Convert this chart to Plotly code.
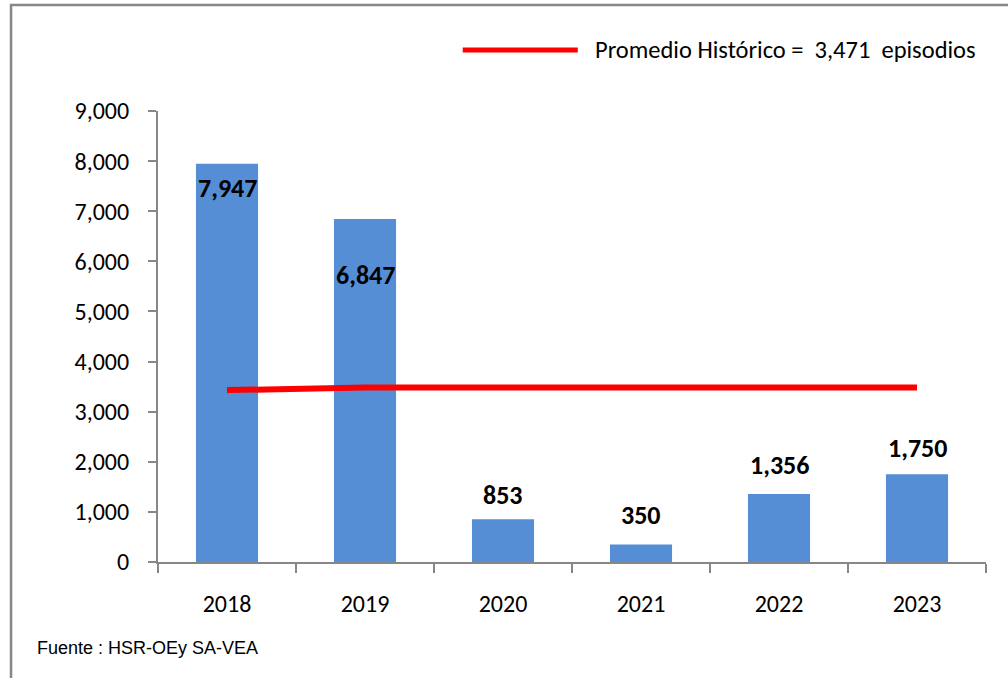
import plotly.graph_objects as go

years = ["2018", "2019", "2020", "2021", "2022", "2023"]
episodios = [7947, 6847, 853, 350, 1356, 1750]
promedio = [3430, 3480, 3480, 3480, 3480, 3480]
label_text = ["7,947", "6,847", "853", "350", "1,356", "1,750"]
label_shift = [-24, -56, 24, 29, 29, 26]
legend_label = "Promedio Histórico =  3,471  episodios"
source_note = "Fuente : HSR-OEy SA-VEA"
y_ticks = [0, 1000, 2000, 3000, 4000, 5000, 6000, 7000, 8000, 9000]

FONT = "Carlito, Lato, 'Liberation Sans', sans-serif"
GRAY = "#878787"

fig = go.Figure()
fig.add_trace(go.Bar(
    x=years, y=episodios, marker=dict(color="#558ED5", line=dict(width=0)),
    width=0.45, showlegend=False, hoverinfo="x+y",
))
fig.add_trace(go.Scatter(
    x=years, y=promedio, mode="lines",
    line=dict(color="#FF0000", width=6), showlegend=False,
))

for i, (v, t, s) in enumerate(zip(episodios, label_text, label_shift)):
    fig.add_annotation(x=i, y=v, text=f"<b>{t}</b>", showarrow=False,
                       yshift=s, font=dict(family=FONT, size=26, color="#000000"))

# legend drawn manually
fig.add_shape(type="line", xref="paper", yref="paper",
              x0=0.368, x1=0.507, y0=1.135, y1=1.135,
              line=dict(color="#FF0000", width=5))
fig.add_annotation(xref="paper", yref="paper", x=0.525, y=1.135,
                   xanchor="left", yanchor="middle", showarrow=False,
                   text=legend_label, font=dict(family=FONT, size=24.5, color="#000000"))
fig.add_annotation(xref="paper", yref="paper", x=-0.149, y=-0.19,
                   xanchor="left", yanchor="middle", showarrow=False,
                   text=source_note,
                   font=dict(family="'Liberation Sans Narrow', 'Arial Narrow', Arial, sans-serif",
                             size=18, color="#000000"))
# outer border
fig.add_shape(type="rect", xref="paper", yref="paper",
              x0=-0.1775, x1=1.2, y0=-0.6, y1=1.235,
              line=dict(color=GRAY, width=2.5), fillcolor="rgba(0,0,0,0)", layer="below")

fig.update_layout(
    width=1008, height=678,
    margin=dict(l=158, r=22, t=111, b=116),
    paper_bgcolor="white", plot_bgcolor="white",
    font=dict(family=FONT, size=22, color="#000000"),
    bargap=0.55,
    showlegend=False,
)
fig.update_yaxes(
    range=[0, 9000], tickvals=y_ticks, tickformat=",d",
    showgrid=False, zeroline=False,
    showline=True, linecolor=GRAY, linewidth=2,
    ticks="outside", ticklen=8, tickcolor=GRAY, tickwidth=2,
    ticklabelstandoff=14,
    tickfont=dict(family=FONT, size=24, color="#000000"),
)
fig.update_xaxes(
    type="category", range=[-0.5, len(years) - 0.5],
    showgrid=False, showline=True, linecolor=GRAY, linewidth=2,
    ticks="outside", ticklen=9, tickcolor=GRAY, tickwidth=2,
    tickson="boundaries", ticklabelstandoff=19,
    tickfont=dict(family=FONT, size=24, color="#000000"),
)

fig.write_html("out.html")
